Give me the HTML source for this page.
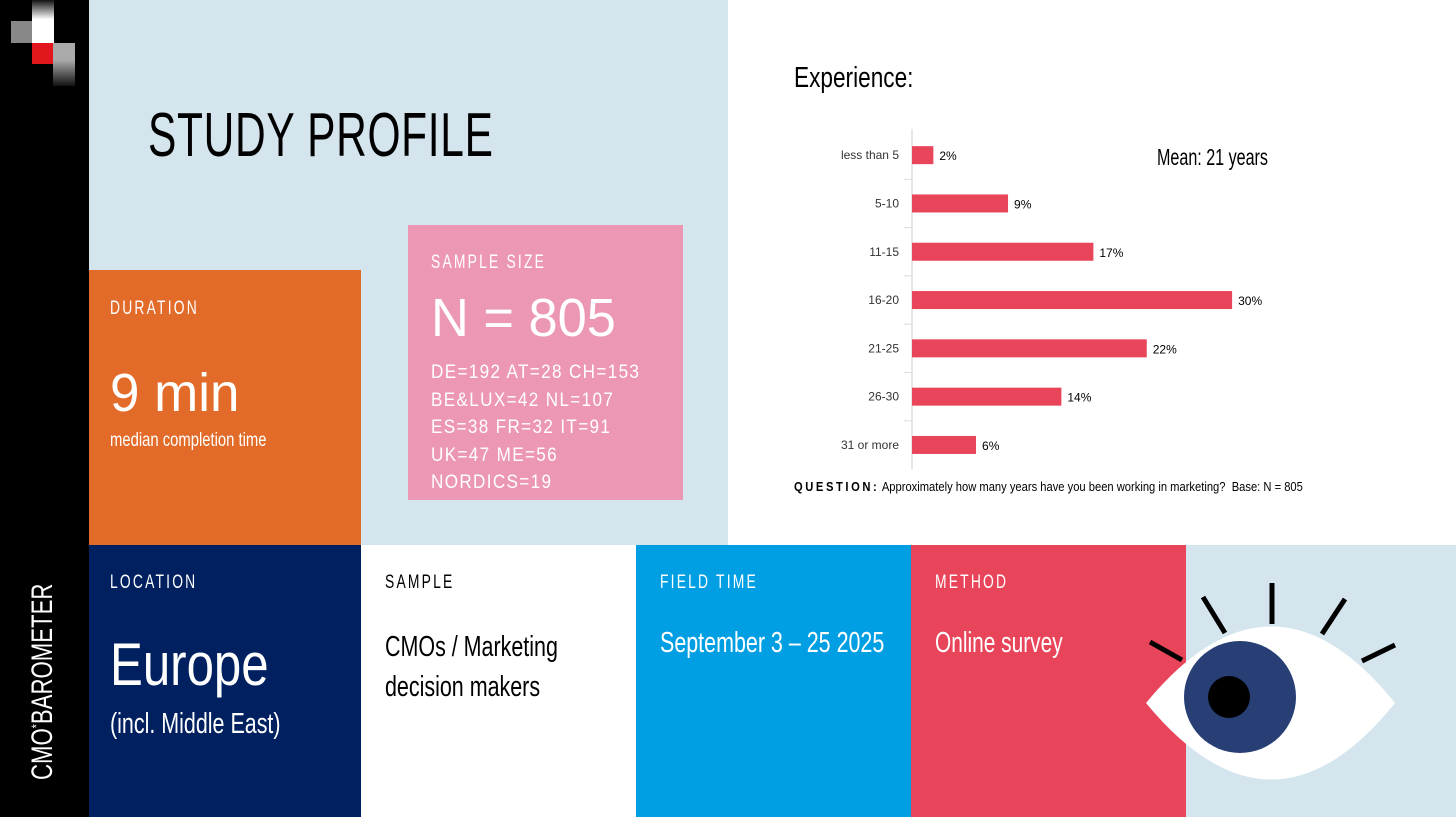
<!DOCTYPE html>
<html><head><meta charset="utf-8"><style>
*{margin:0;padding:0;box-sizing:border-box}
body{width:1456px;height:817px;position:relative;overflow:hidden;background:#fff;font-family:"Liberation Sans Narrow","Liberation Sans",sans-serif}
.b{position:absolute;white-space:nowrap;transform-origin:0 0}
.lab{position:absolute;font-size:19px;letter-spacing:3px;white-space:nowrap;transform-origin:0 0;transform:scaleX(0.73)}
</style></head><body>
<div class="b" style="left:0;top:0;width:89px;height:817px;background:#000"></div>
<div class="b" style="left:0;top:0;width:89px;height:90px">
 <div class="b" style="left:11px;top:21px;width:22px;height:22px;background:#888"></div>
 <div class="b" style="left:32px;top:0;width:22px;height:43px;background:linear-gradient(#111,#fff 45%,#fff)"></div>
 <div class="b" style="left:32px;top:43px;width:21px;height:21px;background:#e2161d"></div>
 <div class="b" style="left:53px;top:43px;width:22px;height:43px;background:linear-gradient(#aaa,#aaa 40%,#111)"></div>
</div>
<div class="b" style="left:26px;top:780px;transform:rotate(-90deg) scaleX(0.74);color:#fff;font-size:30px">CMO<sup style="font-size:14px">*</sup>BAROMETER</div>
<div class="b" style="left:89px;top:0;width:639px;height:545px;background:#d4e5ee"></div>
<div class="b" style="left:148px;top:100px;font-size:62px;letter-spacing:1px;color:#000;transform:scaleX(0.685)">STUDY PROFILE</div>

<div class="b" style="left:89px;top:270px;width:272px;height:275px;background:#e36b29;color:#fff">
 <div class="lab" style="left:21px;top:28px">DURATION</div>
 <div class="b" style="left:21px;top:92px;font-size:54px;transform:scaleX(0.98)">9 min</div>
 <div class="b" style="left:21px;top:160px;font-size:19px;transform:scaleX(0.78)">median completion time</div>
</div>
<div class="b" style="left:408px;top:225px;width:275px;height:275px;background:#ec98b4;color:#fff">
 <div class="lab" style="left:23px;top:27px">SAMPLE SIZE</div>
 <div class="b" style="left:23px;top:62px;font-size:54px;transform:scaleX(0.97)">N = 805</div>
 <div class="b" style="left:23px;top:134px;font-size:19px;line-height:27.5px;letter-spacing:1.5px;transform:scaleX(0.9)">DE=192 AT=28 CH=153<br>BE&amp;LUX=42 NL=107<br>ES=38 FR=32 IT=91<br>UK=47 ME=56<br>NORDICS=19</div>
</div>

<div class="b" style="left:89px;top:545px;width:272px;height:272px;background:#00205f;color:#fff">
 <div class="lab" style="left:21px;top:27px">LOCATION</div>
 <div class="b" style="left:21px;top:85px;font-size:60px;transform:scaleX(0.82)">Europe</div>
 <div class="b" style="left:21px;top:163px;font-size:29px;transform:scaleX(0.74)">(incl. Middle East)</div>
</div>
<div class="b" style="left:361px;top:545px;width:275px;height:272px;background:#fff;color:#000">
 <div class="lab" style="left:24px;top:27px">SAMPLE</div>
 <div class="b" style="left:24px;top:82px;font-size:29px;line-height:40px;transform:scaleX(0.74)">CMOs / Marketing<br>decision makers</div>
</div>
<div class="b" style="left:636px;top:545px;width:275px;height:272px;background:#009fe3;color:#fff">
 <div class="lab" style="left:24px;top:27px">FIELD TIME</div>
 <div class="b" style="left:24px;top:82px;font-size:29px;transform:scaleX(0.74)">September 3 – 25 2025</div>
</div>
<div class="b" style="left:911px;top:545px;width:275px;height:272px;background:#e8445a;color:#fff">
 <div class="lab" style="left:24px;top:27px">METHOD</div>
 <div class="b" style="left:24px;top:82px;font-size:29px;transform:scaleX(0.72)">Online survey</div>
</div>
<div class="b" style="left:1186px;top:545px;width:270px;height:272px;background:#d4e5ee"></div>
<svg class="b" style="left:0;top:0" width="1456" height="817">
 <path d="M1146 703 Q1272 550 1395 703 Q1272 856 1146 703Z" fill="#fff"/>
 <circle cx="1240" cy="697" r="56" fill="#283f76"/>
 <circle cx="1229" cy="697" r="21" fill="#000"/>
 <g stroke="#000" stroke-width="5">
 <line x1="1150" y1="642" x2="1182" y2="660"/><line x1="1203" y1="597" x2="1225" y2="633"/>
 <line x1="1272" y1="583" x2="1272" y2="624"/><line x1="1345" y1="599" x2="1322" y2="634"/>
 <line x1="1395" y1="645" x2="1362" y2="661"/></g>
</svg>

<div class="b" style="left:794px;top:62px;font-size:29px;color:#000;transform:scaleX(0.78)">Experience:</div>
<div class="b" style="left:1157px;top:144px;font-size:23px;color:#000;transform:scaleX(0.70)">Mean: 21 years</div>
<svg class="b" id="chart" style="left:0;top:0" width="1456" height="545"></svg>
<div class="b" style="left:794px;top:479px;font-size:13px;color:#000;transform:scaleX(0.86)"><b style="letter-spacing:3px">QUESTION:</b> Approximately how many years have you been working in marketing?&nbsp; Base: N = 805</div>

<script>
const categories=["less than 5","5-10","11-15","16-20","21-25","26-30","31 or more"];
const values=[2,9,17,30,22,14,6];
const valueLabels=["2%","9%","17%","30%","22%","14%","6%"];
const svg=document.getElementById('chart');const NS='http://www.w3.org/2000/svg';
const x0=912,pxPer=10.67,yTop=131,step=48.3,barH=18;
const xs=v=>x0+v*pxPer;const yc=i=>yTop+step*(i+0.5);
function mk(t,a){const e=document.createElementNS(NS,t);for(const k in a)e.setAttribute(k,a[k]);svg.appendChild(e);return e;}
const ax=mk('line',{x1:x0,y1:yTop-2,x2:x0,y2:yTop+step*categories.length,stroke:'#ddd','stroke-width':1.5});


categories.forEach((c,i)=>{
 if(i>0){const tk=mk('line',{x1:x0-8,x2:x0,y1:yTop+step*i,y2:yTop+step*i,stroke:'#ddd'});
 
 }
 const r=mk('rect',{x:x0,y:yc(i)-barH/2,width:xs(values[i])-x0,height:barH,fill:'#e8445a'});
 
 
 const l=mk('text',{x:899,y:yc(i)+4,'text-anchor':'end','font-size':12,fill:'#333','font-family':'Liberation Sans Narrow, Liberation Sans, sans-serif'});l.textContent=c;
 
 
 const v=mk('text',{x:xs(values[i])+6,y:yc(i)+5,'font-size':12,fill:'#000','font-family':'Liberation Sans, sans-serif'});v.textContent=valueLabels[i];
 
 
});
</script>
</body></html>
